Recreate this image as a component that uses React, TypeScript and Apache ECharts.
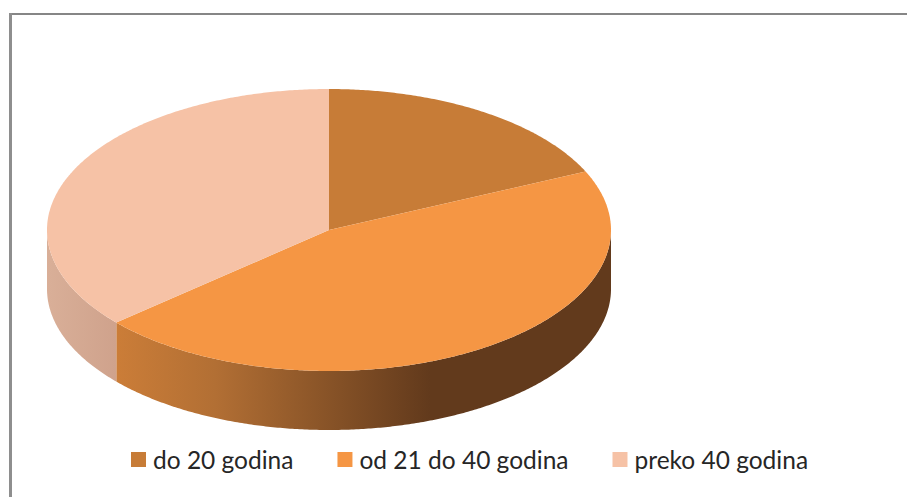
import React, { useEffect, useRef } from "react";
import * as echarts from "echarts";

const categories = ["do 20 godina", "od 21 do 40 godina", "preko 40 godina"];
const values = [18.2, 45.4, 36.4];
const topColors = ["#C77C37", "#F59644", "#F6C2A6"];
const sideColors: any[] = [
  "#8F5A28",
  {
    type: "linear", x: 0, y: 0, x2: 1, y2: 0,
    colorStops: [
      { offset: 0, color: "#CB7D38" },
      { offset: 0.2, color: "#B26F34" },
      { offset: 0.634, color: "#623A1C" },
      { offset: 1, color: "#623A1C" },
    ],
  },
  {
    type: "linear", x: 0, y: 0, x2: 1, y2: 0,
    colorStops: [
      { offset: 0, color: "#D9AF98" },
      { offset: 1, color: "#CFA28C" },
    ],
  },
];

const CX = 329, CY = 230, RX = 282, RY = 141, DEPTH = 59;
const total = values.reduce((a, b) => a + b, 0);
const pt = (deg: number, dy = 0) => {
  const r = (deg * Math.PI) / 180;
  return [CX + RX * Math.sin(r), CY + dy - RY * Math.cos(r)];
};
const arc = (a: number, b: number, dy = 0) => {
  const out: number[][] = [];
  const n = Math.max(2, Math.ceil(Math.abs(b - a) * 2));
  for (let i = 0; i <= n; i++) out.push(pt(a + ((b - a) * i) / n, dy));
  return out;
};

function makeSeries(idx: number) {
  const before = values.slice(0, idx).reduce((a, b) => a + b, 0);
  const a0 = (before / total) * 360;
  const a1 = ((before + values[idx]) / total) * 360;
  return {
    type: "custom",
    name: categories[idx],
    coordinateSystem: "none",
    silent: true,
    itemStyle: { color: topColors[idx] },
    data: [[values[idx]]],
    renderItem: () => {
      const children: any[] = [];
      const s = Math.max(a0, 90), e = Math.min(a1, 270);
      if (e > s) {
        children.push({
          type: "polygon",
          shape: { points: [...arc(s, e), ...arc(e, s, DEPTH)] },
          style: { fill: sideColors[idx] },
        });
      }
      children.push({
        type: "polygon",
        shape: { points: [[CX, CY], ...arc(a0, a1)] },
        style: { fill: topColors[idx] },
      });
      return { type: "group", children };
    },
  };
}

export default function App() {
  const ref = useRef<HTMLDivElement>(null);
  useEffect(() => {
    document.body.style.margin = "0";
    const chart = echarts.init(ref.current!, undefined, { renderer: "svg" });
    chart.setOption({
      animation: false,
      backgroundColor: "#ffffff",
      legend: {
        data: categories,
        left: 131,
        top: 447,
        icon: "rect",
        itemWidth: 15,
        itemHeight: 15,
        itemGap: 44,
        selectedMode: false,
        padding: 0,
        textStyle: { fontFamily: "Lato", fontSize: 24.5, color: "#262626", padding: [0, 0, 0, 2] },
      },
      graphic: [
        { type: "rect", shape: { x: 9, y: 13, width: 898, height: 2 }, style: { fill: "#868686" } },
        { type: "rect", shape: { x: 9, y: 13, width: 3, height: 484 }, style: { fill: "#8E8E8E" } },
      ],
      series: categories.map((_, i) => makeSeries(i)),
    });
    return () => chart.dispose();
  }, []);
  return <div ref={ref} style={{ position: "absolute", left: 0, top: 0, width: 907, height: 497 }} />;
}
